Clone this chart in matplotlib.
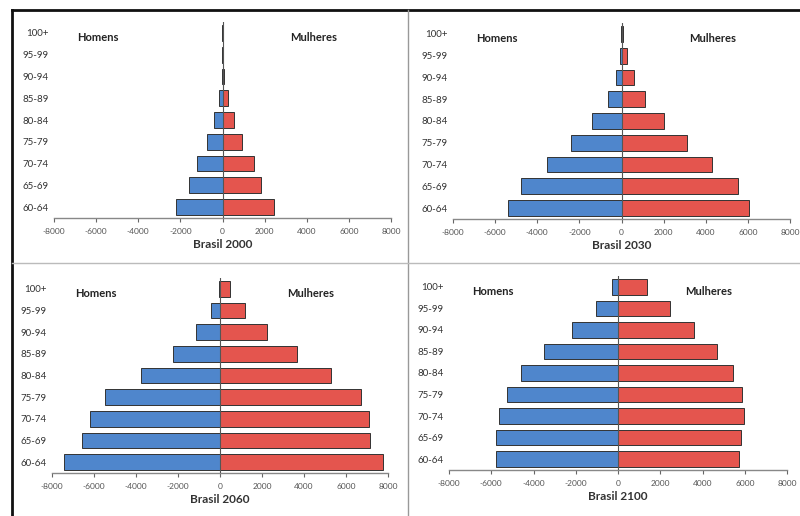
import matplotlib
matplotlib.use("Agg")
import matplotlib.pyplot as plt
from matplotlib.lines import Line2D

plt.rcParams['font.family'] = ['Lato', 'DejaVu Sans']

faixas = ['60-64', '65-69', '70-74', '75-79', '80-84', '85-89', '90-94', '95-99', '100+']

# population (thousands)
homens_2000 = [2200, 1600, 1200, 730, 400, 170, 40, 12, 3]
mulheres_2000 = [2440, 1820, 1500, 930, 540, 280, 80, 30, 10]

homens_2030 = [5370, 4750, 3520, 2410, 1390, 650, 270, 80, 20]
mulheres_2030 = [6050, 5510, 4280, 3120, 2030, 1110, 570, 250, 80]

homens_2060 = [7420, 6590, 6180, 5470, 3770, 2220, 1160, 410, 50]
mulheres_2060 = [7770, 7160, 7080, 6720, 5290, 3650, 2250, 1170, 480]

homens_2100 = [5790, 5760, 5650, 5270, 4570, 3500, 2180, 1040, 300]
mulheres_2100 = [5730, 5840, 5960, 5850, 5440, 4700, 3600, 2460, 1360]

titulos = ['Brasil 2000', 'Brasil 2030', 'Brasil 2060', 'Brasil 2100']
dados = [(homens_2000, mulheres_2000), (homens_2030, mulheres_2030),
         (homens_2060, mulheres_2060), (homens_2100, mulheres_2100)]

# axes boxes in pixels: left, right, top, bottom (from top of image)
caixas = [(54, 391, 22, 218), (453, 790, 23, 219),
          (52, 388, 278, 473), (449, 787, 276, 470)]

W, H = 800, 516
fig = plt.figure(figsize=(8, 5.16), dpi=100)
fig.patch.set_facecolor('white')

azul = '#4f86cc'
vermelho = '#e4554e'
borda = '#333333'

for (homens, mulheres), titulo, (x0, x1, y0, y1) in zip(dados, titulos, caixas):
    ax = fig.add_axes([x0 / W, 1 - y1 / H, (x1 - x0) / W, (y1 - y0) / H])
    pos = list(range(len(faixas)))
    ax.barh(pos, [-h for h in homens], height=0.72, color=azul,
            edgecolor=borda, linewidth=0.7)
    ax.barh(pos, mulheres, height=0.72, color=vermelho,
            edgecolor=borda, linewidth=0.7)
    ax.axvline(0, color='#555555', linewidth=0.8, zorder=3)
    ax.set_xlim(-8000, 8000)
    ax.set_ylim(-0.5, 8.5)
    ax.set_yticks(pos)
    ax.set_yticklabels(faixas, fontsize=7, color='#333333')
    ax.tick_params(axis='y', length=0, pad=4)
    ax.set_xticks(range(-8000, 8001, 2000))
    ax.set_xticklabels([str(v) for v in range(-8000, 8001, 2000)],
                       fontsize=6, color='#555555')
    ax.tick_params(axis='x', length=3, width=0.8, color='#666666', pad=4)
    for s in ['top', 'right', 'left']:
        ax.spines[s].set_visible(False)
    ax.spines['bottom'].set_color('#888888')
    ax.spines['bottom'].set_linewidth(1.0)
    ax.set_xlabel(titulo, fontsize=8.5, fontweight='bold', color='#333333',
                  labelpad=3)
    ax.text(0.068, 0.92, 'Homens', transform=ax.transAxes, fontsize=8,
            fontweight='bold', color='#222222', va='center', ha='left')
    ax.text(0.70, 0.92, 'Mulheres', transform=ax.transAxes, fontsize=8,
            fontweight='bold', color='#222222', va='center', ha='left')

# frame lines of the scanned page
def linha(xs, ys, cor, lw):
    fig.add_artist(Line2D([x / W for x in xs], [1 - y / H for y in ys],
                          color=cor, linewidth=lw, transform=fig.transFigure))

linha([12, 800], [10, 10], '#111111', 2.0)
linha([12, 12], [10, 516], '#111111', 2.0)
linha([408, 408], [10, 516], '#999999', 1.0)
linha([12, 800], [263, 263], '#bbbbbb', 1.0)

fig.savefig('out.png', dpi=100)
